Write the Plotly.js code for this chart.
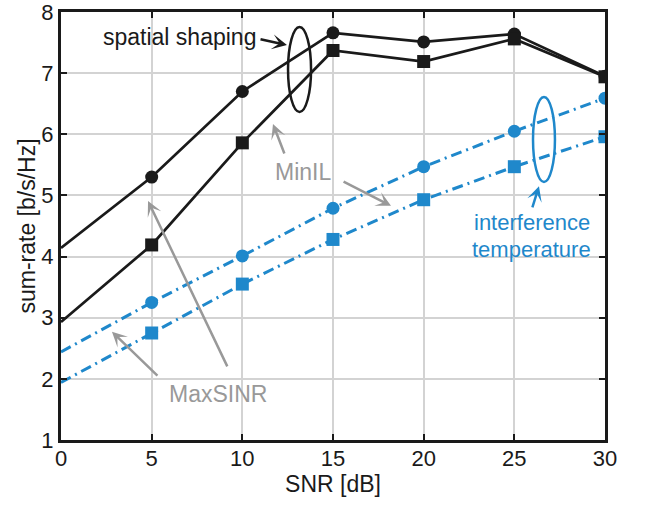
<!DOCTYPE html>
<html>
<head>
<meta charset="utf-8">
<script src="https://cdn.plot.ly/plotly-3.0.1.min.js"></script>
<style>html,body{margin:0;padding:0;background:#fff;}#chart{width:646px;height:505px;}</style>
</head>
<body>
<div id="chart"></div>
<script>
// SNR [dB]
const snr = [0, 5, 10, 15, 20, 25, 30];
// spatial shaping (black)
const spatialMinIL   = [4.14, 5.30, 6.70, 7.66, 7.51, 7.64, 6.95];
const spatialMaxSINR = [2.93, 4.19, 5.86, 7.37, 7.19, 7.56, 6.94];
// interference temperature (blue)
const interfMinIL    = [2.44, 3.25, 4.01, 4.79, 5.47, 6.05, 6.59];
const interfMaxSINR  = [1.94, 2.75, 3.55, 4.28, 4.93, 5.47, 5.96];
const xTicks = [0, 5, 10, 15, 20, 25, 30];
const yTicks = [1, 2, 3, 4, 5, 6, 7, 8];

const BLACK = '#1a1a1a';
const BLUE = '#1f88cb';
const GRAY = '#999999';
const FONT = 'Liberation Sans, Arial, sans-serif';

const sizes = (xs, s) => xs.map(v => v === 0 ? 0 : s);

function series(y, symbol, color, line) {
  return {x: snr, y: y, mode: 'lines+markers', line: line,
    marker: {symbol: symbol, size: sizes(snr, 13), color: color, opacity: 1,
             line: {color: color, width: 0}}};
}

const traces = [
  series(spatialMinIL, 'circle', BLACK, {color: BLACK, width: 2.7}),
  series(spatialMaxSINR, 'square', BLACK, {color: BLACK, width: 2.7}),
  series(interfMinIL, 'circle', BLUE, {color: BLUE, width: 3, dash: '11px,5px,2px,5px'}),
  series(interfMaxSINR, 'square', BLUE, {color: BLUE, width: 3, dash: '11px,5px,2px,5px'})
];

function arrow(tx, ty, ax, ay, color) {
  return {x: tx, y: ty, ax: ax, ay: ay, xref: 'x', yref: 'y', axref: 'x', ayref: 'y',
    text: '', showarrow: true, arrowhead: 3, arrowsize: 1, arrowwidth: 2.5,
    arrowcolor: color, standoff: 0, startstandoff: 0};
}
function label(tx, ty, text, color, size) {
  return {x: tx, y: ty, xref: 'x', yref: 'y', text: text, showarrow: false,
    font: {family: FONT, size: size || 23, color: color}, xanchor: 'center', yanchor: 'middle'};
}

const layout = {
  width: 646, height: 505,
  margin: {l: 61, r: 41, t: 12, b: 65},
  paper_bgcolor: '#fff', plot_bgcolor: '#fff',
  showlegend: false,
  font: {family: FONT, size: 22, color: BLACK},
  xaxis: {
    range: [0, 30], tickvals: xTicks, ticktext: xTicks.map(String),
    showgrid: true, gridcolor: '#d3d3d3', gridwidth: 2,
    showline: true, linecolor: BLACK, linewidth: 3, mirror: 'ticks',
    ticks: 'inside', ticklen: 6, tickwidth: 2, tickcolor: BLACK,
    zeroline: false, ticklabelstandoff: -3, ticklabeloverflow: 'allow',
    tickfont: {family: FONT, size: 22, color: BLACK},
    title: {text: 'SNR [dB]', font: {family: FONT, size: 23, color: BLACK}, standoff: 0}
  },
  yaxis: {
    range: [1, 8], tickvals: yTicks, ticktext: yTicks.map(String),
    showgrid: true, gridcolor: '#d3d3d3', gridwidth: 2,
    showline: true, linecolor: BLACK, linewidth: 3, mirror: 'ticks',
    ticks: 'inside', ticklen: 6, tickwidth: 2, tickcolor: BLACK,
    zeroline: false, ticklabelstandoff: 0, ticklabeloverflow: 'allow',
    tickfont: {family: FONT, size: 22, color: BLACK},
    title: {text: 'sum-rate [b/s/Hz]', font: {family: FONT, size: 23, color: BLACK}, standoff: 0}
  },
  shapes: [
    {type: 'circle', xref: 'x', yref: 'y', x0: 12.52, x1: 13.79, y0: 6.365, y1: 7.755,
     line: {color: BLACK, width: 2.5}},
    {type: 'circle', xref: 'x', yref: 'y', x0: 26.03, x1: 27.24, y0: 5.22, y1: 6.61,
     line: {color: BLUE, width: 2.5}}
  ],
  annotations: [
    label(6.56, 7.59, 'spatial shaping', BLACK),
    arrow(12.46, 7.46, 10.92, 7.56, BLACK),
    label(13.37, 5.38, 'MinIL', GRAY),
    arrow(11.69, 6.17, 12.35, 5.66, GRAY),
    arrow(18.20, 4.83, 15.50, 5.24, GRAY),
    label(8.66, 1.75, 'MaxSINR', GRAY),
    arrow(4.80, 4.91, 9.21, 2.18, GRAY),
    arrow(2.81, 2.77, 5.40, 2.03, GRAY),
    label(25.97, 4.55, 'interference', BLUE, 22),
    label(25.97, 4.12, 'temperature', BLUE, 22),
    arrow(26.36, 5.15, 25.97, 4.78, BLUE)
  ]
};

Plotly.newPlot('chart', traces, layout, {staticPlot: true, displayModeBar: false});
</script>
</body>
</html>
